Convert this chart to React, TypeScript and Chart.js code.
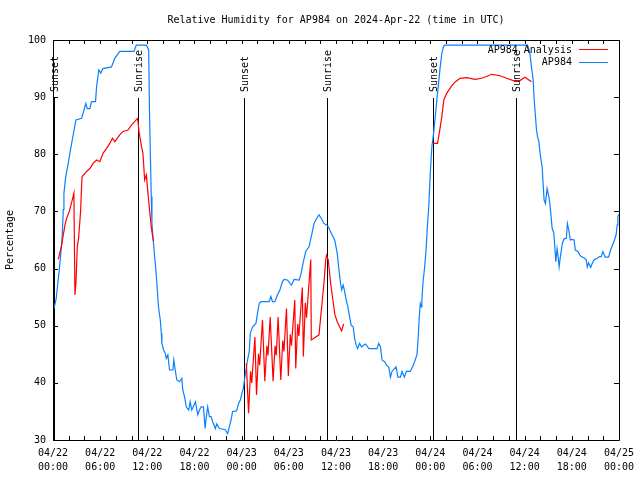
import React, { useEffect, useRef } from 'react';
import { Chart, registerables } from 'chart.js';

Chart.register(...registerables);

const FONT = '"DejaVu Sans Mono", monospace';

const titleText = 'Relative Humidity for AP984 on 2024-Apr-22 (time in UTC)';
const yAxisTitle = 'Percentage';

const xTickHours = [0, 6, 12, 18, 24, 30, 36, 42, 48, 54, 60, 66, 72];
const xTickLabels = [
  ['04/22', '00:00'], ['04/22', '06:00'], ['04/22', '12:00'], ['04/22', '18:00'],
  ['04/23', '00:00'], ['04/23', '06:00'], ['04/23', '12:00'], ['04/23', '18:00'],
  ['04/24', '00:00'], ['04/24', '06:00'], ['04/24', '12:00'], ['04/24', '18:00'],
  ['04/25', '00:00'],
];
const xMinorTickHours = Array.from({ length: 37 }, (_, i) => i * 2);
const yTicks = [30, 40, 50, 60, 70, 80, 90, 100];

const sunsetHours = [0.17, 24.25, 48.33];
const sunriseHours = [10.8, 34.88, 58.85];

const seriesLabels = ['AP984 Analysis', 'AP984'];
const seriesColors = ['#ff0000', '#0a80ff'];

// AP984 (observed)
const blueHours = [
  0, 0.13, 0.38, 0.55, 0.8, 1.0, 1.14, 1.22, 1.31, 1.39, 1.61, 1.94, 2.15, 2.45, 2.79, 2.92,
  3.64, 3.84, 4.18, 4.35, 4.69, 4.9, 5.41, 5.54, 5.83, 6.08, 6.34, 7.44, 7.86, 8.49, 10.3, 10.6,
  11.88, 12.17, 12.29, 12.5, 12.59, 12.71, 12.93, 13.05, 13.22, 13.35, 13.47, 13.65, 13.78, 13.85,
  14.07, 14.28, 14.41, 14.61, 14.83, 15.25, 15.37, 15.55, 15.75, 16.1, 16.39, 16.51, 16.73, 16.95,
  17.27, 17.45, 17.66, 18.12, 18.42, 18.63, 18.85, 19.14, 19.35, 19.48, 19.68, 19.9, 20.11, 20.32,
  20.66, 20.82, 21.17, 21.93, 22.22, 22.43, 22.65, 22.85, 23.36, 23.61, 23.83, 24.04, 24.21, 24.36,
  24.55, 24.75, 24.97, 25.1, 25.39, 25.82, 26.02, 26.24, 26.45, 27.5, 27.72, 27.92, 28.23, 28.56,
  28.86, 29.19, 29.4, 29.82, 30.33, 30.67, 31.31, 31.52, 31.81, 32.15, 32.57, 32.86, 33.21, 33.55,
  33.84, 34.13, 34.47, 34.82, 35.02, 35.4, 35.83, 36.16, 36.38, 36.59, 36.72, 36.92, 37.1, 37.3,
  37.52, 37.73, 37.93, 38.19, 38.37, 38.57, 38.75, 39.0, 39.25, 39.76, 40.18, 41.23, 41.44, 41.66,
  41.86, 42.2, 42.42, 42.71, 42.93, 43.13, 43.64, 43.89, 44.2, 44.4, 44.7, 44.96, 45.46, 45.75,
  46.0, 46.3, 46.43, 46.6, 46.73, 46.86, 46.93, 47.06, 47.24, 47.36, 47.49, 47.62, 47.78, 48.0,
  48.2, 48.42, 48.63, 48.83, 49.05, 49.26, 49.47, 49.68, 49.81, 60.37, 60.67, 60.87, 61.09, 61.22,
  61.38, 61.51, 61.64, 61.81, 62.02, 62.23, 62.36, 62.48, 62.65, 62.86, 63.08, 63.21, 63.37, 63.5,
  63.71, 63.84, 63.97, 64.13, 64.26, 64.39, 64.55, 64.8, 65.02, 65.31, 65.44, 65.62, 65.82, 66.03,
  66.29, 66.45, 66.79, 67.01, 67.21, 67.64, 67.85, 67.97, 68.15, 68.4, 68.57, 68.82, 69.24, 69.54,
  69.75, 69.96, 70.25, 70.68, 70.94, 71.23, 71.44, 71.65, 71.77, 71.86, 72,
];
const blueValues = [
  53, 53.1, 54.5, 56.6, 59.8, 62.7, 65, 67.3, 70.3, 73.2, 76, 78.4, 80.2, 82.5, 85.1, 86,
  86.3, 87.2, 88.9, 88, 88, 89.2, 89.2, 91.8, 94.75, 94.2, 95, 95.3, 96.8, 98, 98, 99.1,
  99.1, 98.3, 86.3, 72.6, 67.9, 65.6, 62.1, 60.3, 57.4, 54.5, 52.75, 51, 48.7, 46.9,
  45.75, 45.2, 44.3, 44.9, 42.25, 42.25, 44, 42.25, 40.5, 40.2, 40.8, 38.75, 37.6, 35.8,
  35.25, 36.7, 35.25, 36.7, 34.4, 35.25, 35.8, 35.8, 32, 33.8, 35.8, 34.1, 34.1, 33.2,
  32, 32.8, 32, 31.8, 31.1, 32.3, 33.5, 35, 35.1, 36.4, 37, 38.2, 39, 40.5,
  42.25, 44, 45.5, 48.7, 49.8, 50.4, 52.2, 53.9, 54.2, 54.2, 55.1, 54.2, 54.2, 55.4,
  56.25, 57.7, 58.1, 58, 57.1, 58.1, 58, 58.9, 60.9, 63, 63.8, 65.6, 67.9, 68.8,
  69.4, 68.8, 67.9, 67.6, 67.3, 66.2, 65, 62.7, 59.75, 57.4, 56.25, 57.1, 56, 54.5,
  53.3, 51.6, 50.1, 49.8, 47.8, 46.6, 46, 46.9, 46.3, 46.8, 46, 46, 46.9, 46.3,
  44, 43.7, 43.1, 42.8, 41, 42, 42.8, 41, 41, 42, 41, 42, 42, 42.8,
  43.7, 44.9, 47.2, 51.6, 53.9, 53.3, 54.5, 57.4, 59.75, 61.5, 63.8, 67.3, 70.25, 76.7,
  81.3, 83.7, 86.6, 89.5, 92.4, 95.3, 97.7, 98.8, 99.1, 99.1, 97.7, 95.3, 93, 89.5,
  86.6, 84.25, 83.1, 82.2, 79.6, 77.8, 74.6, 72, 71.4, 74, 72.6, 71.4, 69.1, 67.05,
  66.2, 63.8, 61.2, 63.5, 62.1, 60.3, 62.1, 64.4, 65.2, 65.3, 67.9, 66.75, 65, 65.1,
  65, 63.25, 63, 62.4, 62.1, 61.8, 61.5, 60.3, 61, 60.2, 60.8, 61.5, 61.8, 62.1,
  62.1, 63, 62, 62, 63.25, 64.3, 65, 66, 67.6, 69.1, 69.5,
];

// AP984 Analysis (null = gap between analysis periods)
const redHours = [
  0.67, 1.1, 1.31, 1.52, 1.74, 2.07, 2.28, 2.5, 2.66, 2.79, 2.92, 3.08, 3.26, 3.51, 3.64, 3.71,
  4.27, 4.69, 5.1, 5.54, 5.96, 6.38, 6.8, 7.22, 7.57, 7.86, 8.49, 8.91, 9.54, 9.97, 10.77, 10.94,
  11.24, 11.44, 11.66, 11.88, 12.08, 12.29, 12.5, 12.71, 12.8,
  13,
  24.6, 24.88, 25.13, 25.28, 25.69, 25.89, 26.14, 26.29, 26.65, 26.95, 27.2, 27.35, 27.63, 28.0,
  28.25, 28.4, 28.64, 28.98, 29.23, 29.38, 29.7, 29.94, 30.19, 30.34, 30.76, 30.88, 31.13, 31.28,
  31.72, 31.85, 32.1, 32.25, 32.79, 32.86, 33.3, 33.84, 34.06, 34.26, 34.47, 34.69, 34.79, 35.02,
  35.32, 35.61, 35.87, 36.16, 36.46, 36.72, 36.97,
  40,
  48.33, 48.92, 49.14, 49.47, 49.72, 50.1, 50.74, 51.2, 51.8, 52.64, 53.7, 54.54, 55.3, 55.8,
  56.87, 57.7, 58.56, 59.4, 60.04, 60.87,
];
const redValues = [
  61.6, 64.1, 65.9, 67.6, 68.8, 70, 71.1, 72.3, 73.2, 55.4, 57.5, 63.6, 65.4, 70, 74.6, 76.1,
  77, 77.5, 78.4, 79, 78.7, 80.2, 81, 81.9, 82.8, 82.2, 83.4, 84, 84.25, 85.1, 86.3, 84,
  81.5, 80.2, 75.5, 76.4, 73.2, 70.2, 67.3, 65.3, 64.8,
  null,
  43.4, 34.7, 42, 40, 48, 37.9, 45.1, 43.1, 51, 40.3, 46.5, 44.8, 51.5, 40.3,
  46.5, 44.8, 51.5, 40.5, 47.4, 45.5, 53, 41.2, 48.5, 46.5, 54.5, 42.5, 50.3, 48.2,
  56.7, 44.6, 54, 51.4, 61.6, 47.5, 47.9, 48.4, 51.6, 54.5, 57.4, 61.5, 62.3, 61.5,
  57.4, 54.5, 51.9, 50.7, 49.8, 49.1, 50.3,
  null,
  81.9, 81.9, 83.7, 86.6, 89.5, 90.7, 92, 92.7, 93.3, 93.4, 93.1, 93.3, 93.7, 94,
  93.75, 93.3, 92.9, 92.9, 93.5, 92.7,
];

const gnuplotFrame = {
  id: 'gnuplotFrame',
  beforeDatasetsDraw(chart: any) {
    const { ctx, chartArea, scales } = chart;
    const x = scales.x;
    ctx.save();
    ctx.strokeStyle = '#000';
    ctx.fillStyle = '#000';
    ctx.lineWidth = 1;
    ctx.font = `10px ${FONT}`;
    const events = [
      ...sunsetHours.map((h) => ({ h, label: 'Sunset' })),
      ...sunriseHours.map((h) => ({ h, label: 'Sunrise' })),
    ];
    for (const e of events) {
      const px = Math.round(x.getPixelForValue(e.h)) + 0.5;
      ctx.beginPath();
      ctx.moveTo(px, chartArea.top + 58);
      ctx.lineTo(px, chartArea.bottom);
      ctx.stroke();
      ctx.save();
      ctx.translate(px + 1, chartArea.top + 52);
      ctx.rotate(-Math.PI / 2);
      ctx.textAlign = 'left';
      ctx.textBaseline = 'middle';
      ctx.fillText(e.label, 0, 0);
      ctx.restore();
    }
    ctx.restore();
  },
  afterDatasetsDraw(chart: any) {
    const { ctx, chartArea, scales } = chart;
    const { left, right, top, bottom } = chartArea;
    const x = scales.x;
    const y = scales.y;
    ctx.save();
    ctx.strokeStyle = '#000';
    ctx.lineWidth = 1;
    ctx.beginPath();
    ctx.rect(Math.round(left) + 0.5, Math.round(top) + 0.5, Math.round(right - left), Math.round(bottom - top));
    ctx.stroke();
    ctx.beginPath();
    for (const h of xMinorTickHours) {
      const px = Math.round(x.getPixelForValue(h)) + 0.5;
      ctx.moveTo(px, bottom);
      ctx.lineTo(px, bottom - 4);
      ctx.moveTo(px, top);
      ctx.lineTo(px, top + 4);
    }
    for (const v of yTicks) {
      const py = Math.round(y.getPixelForValue(v)) + 0.5;
      ctx.moveTo(left, py);
      ctx.lineTo(left + 5, py);
      ctx.moveTo(right, py);
      ctx.lineTo(right - 5, py);
    }
    ctx.stroke();

    // legend (gnuplot style: text then sample line at the right)
    ctx.font = `10px ${FONT}`;
    ctx.textAlign = 'right';
    ctx.textBaseline = 'middle';
    chart.data.datasets.forEach((ds: any, i: number) => {
      const ry = top + 10 + i * 12.5;
      ctx.fillStyle = '#000';
      ctx.fillText(ds.label, right - 47, ry);
      ctx.strokeStyle = ds.borderColor;
      ctx.beginPath();
      ctx.moveTo(right - 40, Math.round(ry) - 0.5);
      ctx.lineTo(right - 11, Math.round(ry) - 0.5);
      ctx.stroke();
    });
    ctx.restore();
  },
};

export default function App() {
  const canvasRef = useRef<HTMLCanvasElement | null>(null);

  useEffect(() => {
    document.body.style.margin = '0';
    const canvas = canvasRef.current;
    if (!canvas) return;
    const chart = new Chart(canvas, {
      type: 'line',
      data: {
        datasets: [
          {
            label: seriesLabels[0],
            data: redHours.map((h, i) => ({ x: h, y: redValues[i] })),
            borderColor: seriesColors[0],
            backgroundColor: seriesColors[0],
            borderWidth: 1.2,
            pointRadius: 0,
            tension: 0,
            spanGaps: false,
          },
          {
            label: seriesLabels[1],
            data: blueHours.map((h, i) => ({ x: h, y: blueValues[i] })),
            borderColor: seriesColors[1],
            backgroundColor: seriesColors[1],
            borderWidth: 1.2,
            pointRadius: 0,
            tension: 0,
          },
        ],
      },
      options: {
        animation: false,
        responsive: false,
        maintainAspectRatio: false,
        events: [],
        layout: { padding: { left: 0, right: 19, top: 0, bottom: 0 } },
        plugins: {
          legend: { display: false },
          tooltip: { enabled: false },
          title: {
            display: true,
            text: titleText,
            fullSize: false,
            color: '#000',
            font: { family: FONT, size: 10, weight: 'normal' },
            padding: { top: 14, bottom: 14 },
          },
        },
        scales: {
          x: {
            type: 'linear',
            min: 0,
            max: 72,
            afterBuildTicks: (scale: any) => {
              scale.ticks = xTickHours.map((v) => ({ value: v }));
            },
            afterFit: (scale: any) => {
              scale.height = 40;
            },
            ticks: {
              autoSkip: false,
              maxRotation: 0,
              minRotation: 0,
              padding: 6,
              color: '#000',
              font: { family: FONT, size: 10, lineHeight: 1.4 },
              callback: (value: any) => {
                const i = xTickHours.indexOf(Number(value));
                return i >= 0 ? xTickLabels[i] : '';
              },
            },
            grid: { display: false, drawTicks: false },
            border: { display: false },
          },
          y: {
            type: 'linear',
            min: 30,
            max: 100,
            afterBuildTicks: (scale: any) => {
              scale.ticks = yTicks.map((v) => ({ value: v }));
            },
            afterFit: (scale: any) => {
              scale.width = 53;
            },
            ticks: {
              padding: 7,
              color: '#000',
              font: { family: FONT, size: 10 },
            },
            title: {
              display: true,
              text: yAxisTitle,
              color: '#000',
              font: { family: FONT, size: 10 },
              padding: { top: 4, bottom: 0 },
            },
            grid: { display: false, drawTicks: false },
            border: { display: false },
          },
        },
      },
      plugins: [gnuplotFrame],
    });
    return () => chart.destroy();
  }, []);

  return (
    <div style={{ width: 640, height: 480 }}>
      <canvas ref={canvasRef} width={640} height={480} style={{ display: 'block' }} />
    </div>
  );
}
